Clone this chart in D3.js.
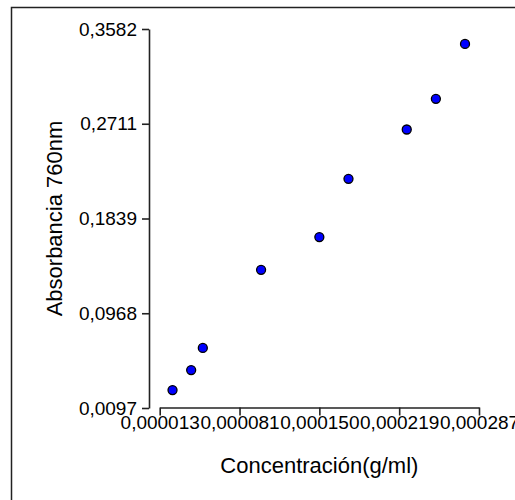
<!DOCTYPE html>
<html>
<head>
<meta charset="utf-8">
<script src="https://cdn.jsdelivr.net/npm/d3@7"></script>
<style>
  body { margin: 0; background: #fff; }
  svg { display: block; }
  .axis text { font-family: "Liberation Sans", Arial, sans-serif; font-size: 19px; fill: #000; }
  .axis path, .axis line { stroke: #222; stroke-width: 1.6; }
  .title { font-family: "Liberation Sans", Arial, sans-serif; font-size: 22px; fill: #000; }
</style>
</head>
<body>
<script>
// concentracion (g/ml) y absorbancia
var conc = [0.000024, 0.00004, 0.00005, 0.0001, 0.00015, 0.000175, 0.000225, 0.00025, 0.000275]
var abs760 = [0.0262, 0.0446, 0.0649, 0.1368, 0.1669, 0.2204, 0.2658, 0.2940, 0.3445]

var xTicks = [0.000013, 0.0000815, 0.00015, 0.0002185, 0.000287]
var xTickLabels = ['0,000013', '0,000081', '0,000150', '0,000219', '0,000287']
var yTicks = [0.0097, 0.096825, 0.18395, 0.271075, 0.3582]
var yTickLabels = ['0,0097', '0,0968', '0,1839', '0,2711', '0,3582']

var width = 515, height = 500

var svg = d3.select('body').append('svg')
  .attr('width', width)
  .attr('height', height)

// marco
svg.append('rect')
  .attr('x', 11.5).attr('y', 7.5)
  .attr('width', 510).attr('height', 500)
  .attr('fill', 'none')
  .attr('stroke', '#222')
  .attr('stroke-width', 1.5)

var x = d3.scaleLinear().domain([xTicks[0], xTicks[xTicks.length - 1]]).range([159.7, 479])
var y = d3.scaleLinear().domain([yTicks[0], yTicks[yTicks.length - 1]]).range([408, 29])

//////////
// EJES //
//////////

svg.append('g')
  .attr('class', 'axis')
  .attr('transform', 'translate(149,0)')
  .call(d3.axisLeft(y)
    .tickValues(yTicks)
    .tickFormat(function(d, i) { return yTickLabels[i] })
    .tickSize(7)
    .tickSizeOuter(0)
    .tickPadding(5))

svg.append('g')
  .attr('class', 'axis')
  .attr('transform', 'translate(0,407.5)')
  .call(d3.axisBottom(x)
    .tickValues(xTicks)
    .tickFormat(function(d, i) { return xTickLabels[i] })
    .tickSize(8)
    .tickSizeOuter(0)
    .tickPadding(0.5))

svg.selectAll('.axis .domain').attr('fill', 'none')

svg.append('text')
  .attr('class', 'title')
  .attr('x', (x.range()[0] + x.range()[1]) / 2)
  .attr('y', 473)
  .attr('text-anchor', 'middle')
  .text('Concentración(g/ml)')

svg.append('text')
  .attr('class', 'title')
  .attr('transform', 'translate(62,' + (y.range()[0] + y.range()[1]) / 2 + ') rotate(-90)')
  .attr('text-anchor', 'middle')
  .text('Absorbancia 760nm')

////////////
// PUNTOS //
////////////

svg.append('g')
  .selectAll('circle')
  .data(conc)
  .join('circle')
  .attr('cx', function(d) { return x(d) })
  .attr('cy', function(d, i) { return y(abs760[i]) })
  .attr('r', 4.5)
  .attr('fill', '#0000ff')
  .attr('stroke', '#000')
  .attr('stroke-width', 1.3)
</script>
</body>
</html>
